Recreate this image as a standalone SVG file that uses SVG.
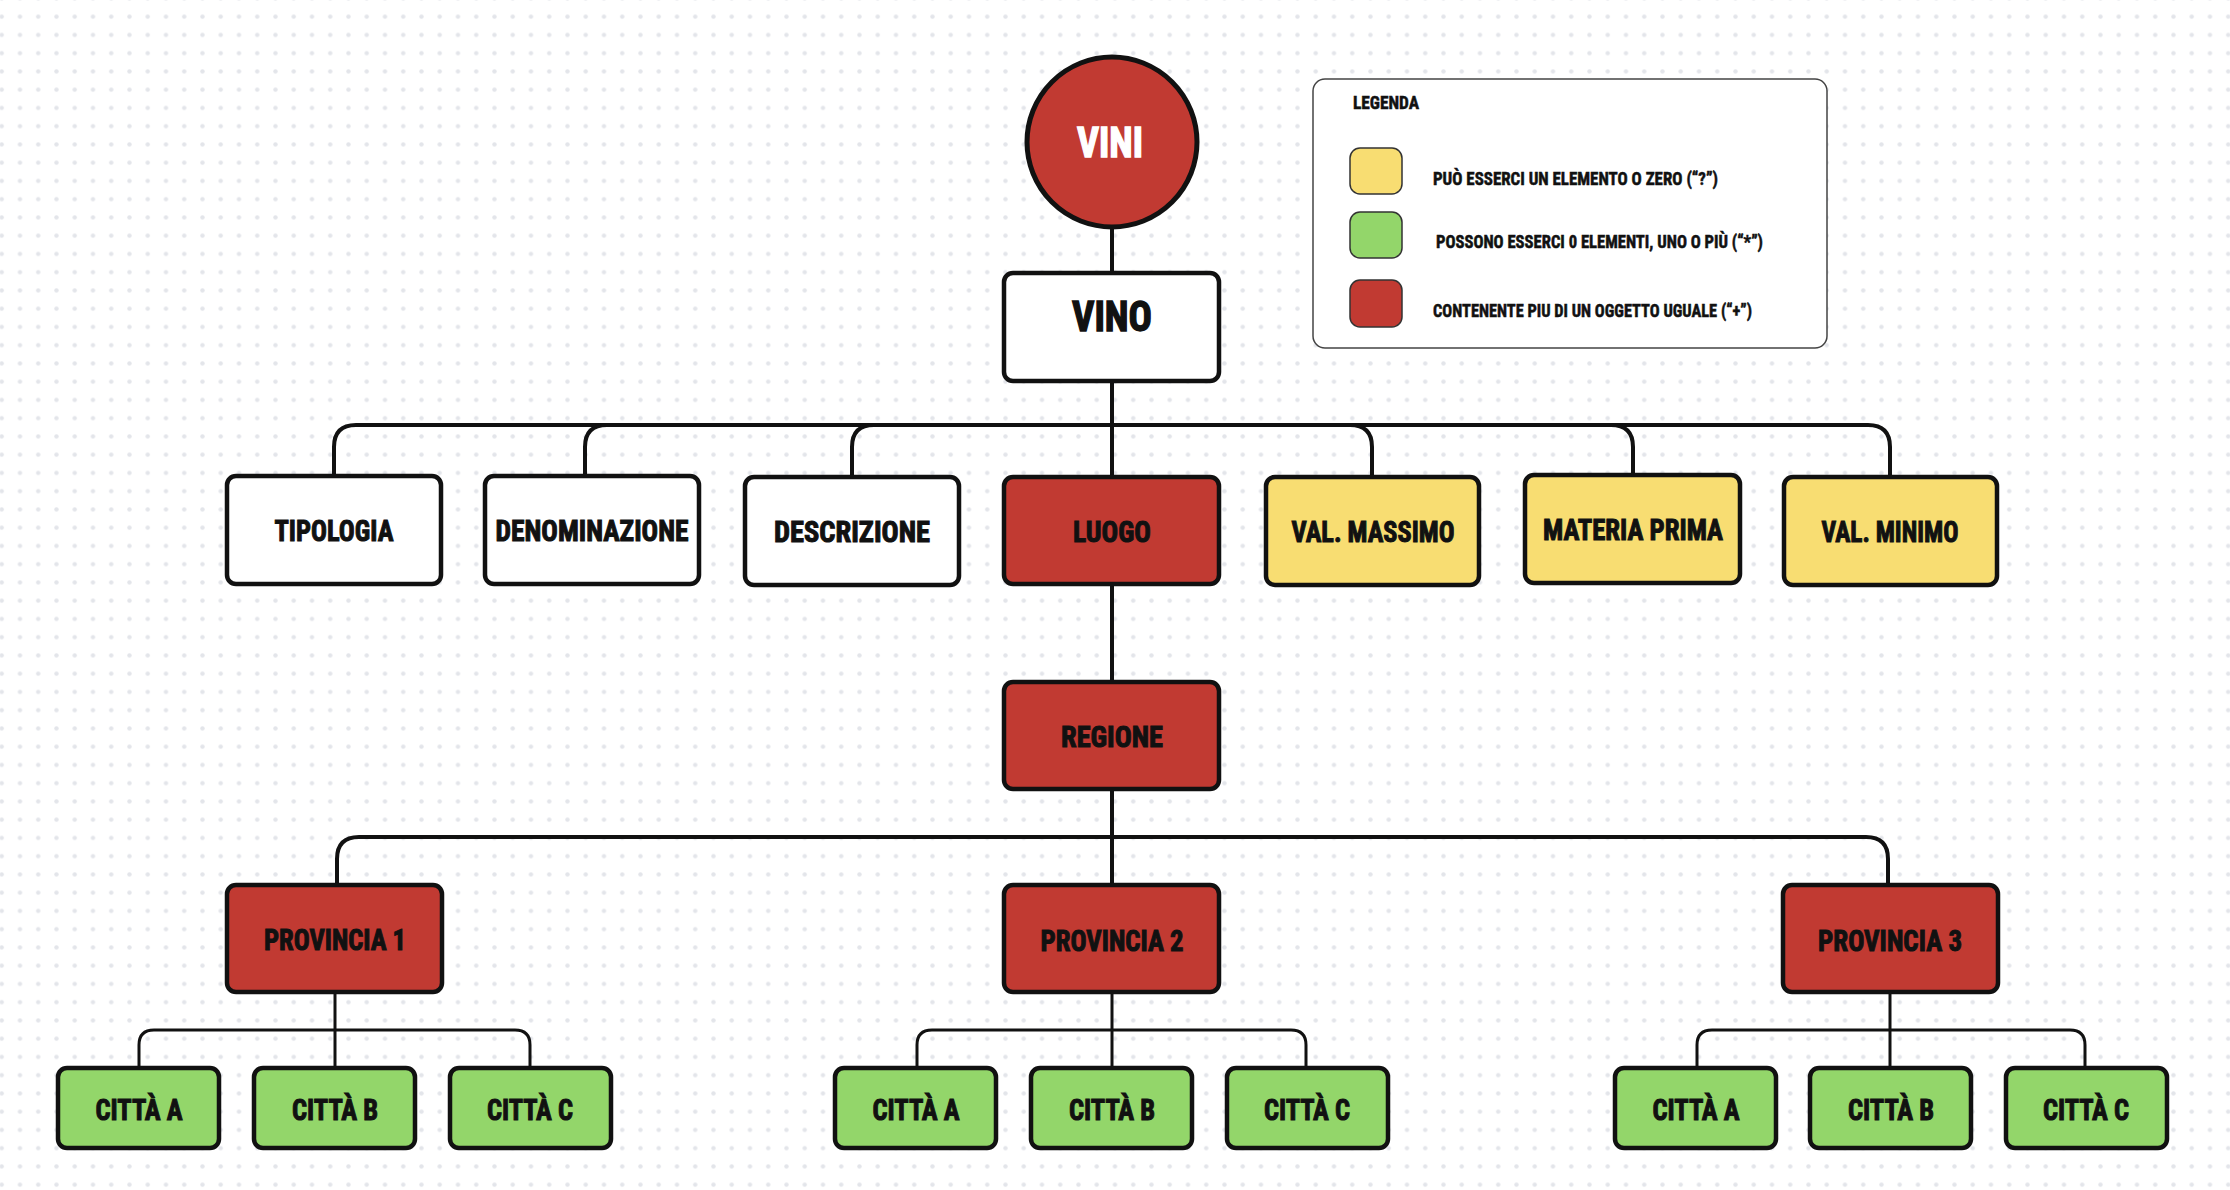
<svg xmlns="http://www.w3.org/2000/svg" width="2230" height="1190" viewBox="0 0 2230 1190">
<defs>
<pattern id="dots" x="-7.4" y="-10.7" width="18.25" height="18.25" patternUnits="userSpaceOnUse">
<circle cx="9.125" cy="9.125" r="2.2" fill="#e3e5ea"/>
</pattern>
<style>
.box{stroke:#111;stroke-width:4.5;}
.white{fill:#ffffff;}
.red{fill:#c13a32;}
.yellow{fill:#f8dd72;}
.green{fill:#93d66a;}
.lbl{font-family:"Liberation Sans Narrow","Roboto Condensed","DejaVu Sans Condensed","Liberation Sans",sans-serif;font-weight:bold;fill:#111;stroke:#111;stroke-width:1;text-anchor:middle;}
.big{font-size:42px;stroke-width:1.4;}
.mid{font-size:29px;}
.leg{font-family:"Liberation Sans Narrow","Roboto Condensed","DejaVu Sans Condensed","Liberation Sans",sans-serif;font-weight:bold;fill:#111;stroke:#111;stroke-width:0.5;font-size:17.5px;}
.conn{fill:none;stroke:#111;stroke-width:4;}
.conn2{fill:none;stroke:#111;stroke-width:3;}
.sw{stroke:#333;stroke-width:1.5;}
</style>
</defs>
<rect x="0" y="0" width="2230" height="1190" fill="#ffffff"/>
<rect x="0" y="0" width="2230" height="1190" fill="url(#dots)"/>

<g id="connectors">
<path class="conn" d="M1112,228 V273"/>
<path class="conn" d="M1112,380 V477"/>
<path class="conn" d="M334,477 V447 Q334,425 356,425 H1868 Q1890,425 1890,447 V477"/>
<path class="conn" d="M585,477 V447 Q585,425 607,425"/>
<path class="conn" d="M852,477 V447 Q852,425 874,425"/>
<path class="conn" d="M1372,477 V447 Q1372,425 1350,425"/>
<path class="conn" d="M1633,477 V447 Q1633,425 1611,425"/>
<path class="conn" d="M1112,583 V683"/>
<path class="conn" d="M1112,789 V886"/>
<path class="conn" d="M337,886 V859 Q337,837 359,837 H1866 Q1888,837 1888,859 V886"/>
<path class="conn2" d="M335,992 V1068"/>
<path class="conn2" d="M139,1068 V1045 Q139,1030 154,1030 H515 Q530,1030 530,1045 V1068"/>
<path class="conn2" d="M1112,992 V1068"/>
<path class="conn2" d="M917,1068 V1045 Q917,1030 932,1030 H1291 Q1306,1030 1306,1045 V1068"/>
<path class="conn2" d="M1890,992 V1068"/>
<path class="conn2" d="M1697,1068 V1045 Q1697,1030 1712,1030 H2070 Q2085,1030 2085,1045 V1068"/>
</g>

<g id="vini">
<circle class="box red" cx="1112" cy="142" r="85" style="stroke-width:5"/>
<text class="lbl big" x="1110" y="157" textLength="66" lengthAdjust="spacingAndGlyphs" style="fill:#ffffff;stroke:#ffffff">VINI</text>
</g>
<g id="vino">
<rect class="box white" x="1004" y="273" width="215" height="108" rx="9"/>
<text class="lbl big" x="1112" y="331" textLength="80" lengthAdjust="spacingAndGlyphs">VINO</text>
</g>

<g id="legenda">
<rect x="1313" y="79" width="514" height="269" rx="12" fill="#ffffff" stroke="#444" stroke-width="1.5"/>
<text class="leg" x="1353" y="109" textLength="66" lengthAdjust="spacingAndGlyphs">LEGENDA</text>
<rect class="sw yellow" x="1350" y="148" width="52" height="46" rx="10"/>
<text class="leg" x="1433" y="185" textLength="285" lengthAdjust="spacingAndGlyphs">PUÒ ESSERCI UN ELEMENTO O ZERO (“?”)</text>
<rect class="sw green" x="1350" y="212" width="52" height="46" rx="10"/>
<text class="leg" x="1436" y="248" textLength="327" lengthAdjust="spacingAndGlyphs">POSSONO ESSERCI 0 ELEMENTI, UNO O PIÙ (“*”)</text>
<rect class="sw red" x="1350" y="280" width="52" height="47" rx="10"/>
<text class="leg" x="1433" y="317" textLength="319" lengthAdjust="spacingAndGlyphs">CONTENENTE PIU DI UN OGGETTO UGUALE (“+”)</text>
</g>

<g id="tipologia">
<rect class="box white" x="227" y="476" width="214" height="108" rx="9"/>
<text class="lbl mid" x="334" y="541" textLength="119" lengthAdjust="spacingAndGlyphs">TIPOLOGIA</text>
</g>
<g id="denominazione">
<rect class="box white" x="485" y="476" width="214" height="108" rx="9"/>
<text class="lbl mid" x="592" y="541" textLength="193" lengthAdjust="spacingAndGlyphs">DENOMINAZIONE</text>
</g>
<g id="descrizione">
<rect class="box white" x="745" y="477" width="214" height="108" rx="9"/>
<text class="lbl mid" x="852" y="542" textLength="156" lengthAdjust="spacingAndGlyphs">DESCRIZIONE</text>
</g>
<g id="luogo">
<rect class="box red" x="1004" y="477" width="215" height="107" rx="9"/>
<text class="lbl mid" x="1112" y="542" textLength="78" lengthAdjust="spacingAndGlyphs">LUOGO</text>
</g>
<g id="val-massimo">
<rect class="box yellow" x="1266" y="477" width="213" height="108" rx="9"/>
<text class="lbl mid" x="1373" y="542" textLength="163" lengthAdjust="spacingAndGlyphs">VAL. MASSIMO</text>
</g>
<g id="materia-prima">
<rect class="box yellow" x="1525" y="475" width="215" height="108" rx="9"/>
<text class="lbl mid" x="1633" y="540" textLength="180" lengthAdjust="spacingAndGlyphs">MATERIA PRIMA</text>
</g>
<g id="val-minimo">
<rect class="box yellow" x="1784" y="477" width="213" height="108" rx="9"/>
<text class="lbl mid" x="1890" y="542" textLength="137" lengthAdjust="spacingAndGlyphs">VAL. MINIMO</text>
</g>

<g id="regione">
<rect class="box red" x="1004" y="682" width="215" height="107" rx="9"/>
<text class="lbl mid" x="1112" y="747" textLength="102" lengthAdjust="spacingAndGlyphs">REGIONE</text>
</g>

<g id="provincia-1">
<rect class="box red" x="227" y="885" width="215" height="107" rx="9"/>
<text class="lbl mid" x="335" y="950" textLength="142" lengthAdjust="spacingAndGlyphs">PROVINCIA 1</text>
</g>
<g id="provincia-2">
<rect class="box red" x="1004" y="885" width="215" height="107" rx="9"/>
<text class="lbl mid" x="1112" y="951" textLength="143" lengthAdjust="spacingAndGlyphs">PROVINCIA 2</text>
</g>
<g id="provincia-3">
<rect class="box red" x="1783" y="885" width="215" height="107" rx="9"/>
<text class="lbl mid" x="1890" y="951" textLength="144" lengthAdjust="spacingAndGlyphs">PROVINCIA 3</text>
</g>

<g id="p1-citta-a">
<rect class="box green" x="58" y="1068" width="161" height="80" rx="9"/>
<text class="lbl mid" x="139" y="1120" textLength="87" lengthAdjust="spacingAndGlyphs">CITTÀ A</text>
</g>
<g id="p1-citta-b">
<rect class="box green" x="254" y="1068" width="161" height="80" rx="9"/>
<text class="lbl mid" x="335" y="1120" textLength="86" lengthAdjust="spacingAndGlyphs">CITTÀ B</text>
</g>
<g id="p1-citta-c">
<rect class="box green" x="450" y="1068" width="161" height="80" rx="9"/>
<text class="lbl mid" x="530" y="1120" textLength="86" lengthAdjust="spacingAndGlyphs">CITTÀ C</text>
</g>

<g id="p2-citta-a">
<rect class="box green" x="835" y="1068" width="161" height="80" rx="9"/>
<text class="lbl mid" x="916" y="1120" textLength="87" lengthAdjust="spacingAndGlyphs">CITTÀ A</text>
</g>
<g id="p2-citta-b">
<rect class="box green" x="1031" y="1068" width="161" height="80" rx="9"/>
<text class="lbl mid" x="1112" y="1120" textLength="86" lengthAdjust="spacingAndGlyphs">CITTÀ B</text>
</g>
<g id="p2-citta-c">
<rect class="box green" x="1227" y="1068" width="161" height="80" rx="9"/>
<text class="lbl mid" x="1307" y="1120" textLength="86" lengthAdjust="spacingAndGlyphs">CITTÀ C</text>
</g>

<g id="p3-citta-a">
<rect class="box green" x="1615" y="1068" width="161" height="80" rx="9"/>
<text class="lbl mid" x="1696" y="1120" textLength="87" lengthAdjust="spacingAndGlyphs">CITTÀ A</text>
</g>
<g id="p3-citta-b">
<rect class="box green" x="1810" y="1068" width="161" height="80" rx="9"/>
<text class="lbl mid" x="1891" y="1120" textLength="86" lengthAdjust="spacingAndGlyphs">CITTÀ B</text>
</g>
<g id="p3-citta-c">
<rect class="box green" x="2006" y="1068" width="161" height="80" rx="9"/>
<text class="lbl mid" x="2086" y="1120" textLength="86" lengthAdjust="spacingAndGlyphs">CITTÀ C</text>
</g>
</svg>
